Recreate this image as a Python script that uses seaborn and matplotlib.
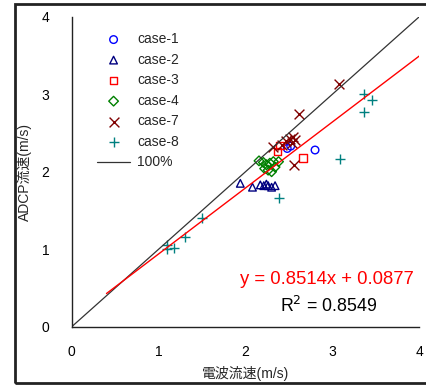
import matplotlib
matplotlib.use("Agg")
import matplotlib.pyplot as plt
import seaborn as sns
import numpy as np
import pandas as pd
from matplotlib.patches import Rectangle

sns.set_style("white")
plt.rcParams['font.family'] = ['Liberation Sans', 'Noto Sans CJK JP', 'DejaVu Sans']

# ---- data ----
case1_x = [2.48, 2.52, 2.80]
case1_y = [2.30, 2.33, 2.28]
case2_x = [1.94, 2.08, 2.17, 2.21, 2.26, 2.30, 2.34, 2.24]
case2_y = [1.85, 1.80, 1.83, 1.82, 1.82, 1.80, 1.82, 1.84]
case3_x = [2.37, 2.40, 2.66]
case3_y = [2.26, 2.34, 2.18]
case4_x = [2.155, 2.205, 2.24, 2.28, 2.32, 2.38, 2.26, 2.30, 2.22, 2.34]
case4_y = [2.14, 2.12, 2.09, 2.11, 2.13, 2.13, 2.02, 2.00, 2.04, 2.06]
case7_x = [3.07, 2.61, 2.56, 2.32, 2.47, 2.51, 2.55, 2.57, 2.53, 2.42]
case7_y = [3.13, 2.74, 2.09, 2.32, 2.39, 2.42, 2.45, 2.41, 2.37, 2.34]
case8_x = [3.36, 3.46, 3.36, 3.09, 2.38, 1.50, 1.30, 1.18, 1.10, 1.10]
case8_y = [3.00, 2.92, 2.77, 2.17, 1.66, 1.40, 1.16, 1.02, 1.05, 1.00]

slope = 0.8514
intercept = 0.0877
r2 = 0.8549
fit_x = [0.4, 4.0]
ref_x = [0.0, 4.0]

ticks = [0, 1, 2, 3, 4]

series = [
    ("case-1", case1_x, case1_y, "o", "#0000ff"),
    ("case-2", case2_x, case2_y, "^", "#000080"),
    ("case-3", case3_x, case3_y, "s", "#ff0000"),
    ("case-4", case4_x, case4_y, "D", "#008000"),
    ("case-7", case7_x, case7_y, "x", "#800000"),
    ("case-8", case8_x, case8_y, "+", "#008080"),
]

fig = plt.figure(figsize=(4.27, 3.86), dpi=100)
ax = fig.add_axes([0.168, 0.1536, 0.814, 0.8031])

for label, xs, ys, m, c in series:
    df = pd.DataFrame({"x": xs, "y": ys})
    if m in ("x", "+"):
        sns.scatterplot(data=df, x="x", y="y", marker=m, s=50, color=c,
                        linewidth=1.0, label=label, ax=ax)
    else:
        size = 30 if m != "D" else 24
        sns.scatterplot(data=df, x="x", y="y", marker=m, s=size, facecolor="none",
                        edgecolor=c, linewidth=1.0, label=label, ax=ax)

ref_df = pd.DataFrame({"x": ref_x, "y": ref_x})
sns.lineplot(data=ref_df, x="x", y="y", color="#333333", linewidth=0.9, label="100%", ax=ax)
fit_df = pd.DataFrame({"x": fit_x, "y": [slope * v + intercept for v in fit_x]})
sns.lineplot(data=fit_df, x="x", y="y", color="#ff0000", linewidth=1.0, ax=ax, legend=False)

ax.set_xlim(0, 4)
ax.set_ylim(0, 4)
ax.set_xticks(ticks)
ax.set_yticks(ticks)
ax.set_xticklabels([str(t) for t in ticks])
ax.set_yticklabels([str(t) for t in ticks])
ax.tick_params(direction="in", length=4, width=1, colors="#222222", labelsize=10,
               labelcolor="black")
ax.tick_params(axis="x", pad=13)
ax.tick_params(axis="y", pad=16)
for s in ("top", "right"):
    ax.spines[s].set_visible(False)
for s in ("left", "bottom"):
    ax.spines[s].set_color("#222222")
    ax.spines[s].set_linewidth(1.0)

ax.set_xlabel("電波流速(m/s)", fontsize=10, labelpad=5)
ax.set_ylabel("ADCP流速(m/s)", fontsize=10, labelpad=7)

ax.text(3.94, 0.615, f"y = {slope}x + {intercept}", color="#ff0000", fontsize=13.3,
        ha="right", va="center")
ax.text(2.95, 0.267, f"R$^2$ = {r2}", color="black", fontsize=12.8,
        ha="center", va="center")

handles, labels = ax.get_legend_handles_labels()
leg = ax.legend(handles, labels, loc="upper left", bbox_to_anchor=(0.073, 0.950),
                frameon=False, fontsize=10, handlelength=2.37, labelspacing=0.47,
                handletextpad=0.5, borderaxespad=0.0, borderpad=0.0)

fig.patches.append(Rectangle((15 / 427, 3 / 386), 1.2, (383 - 4) / 386,
                             transform=fig.transFigure, fill=False,
                             edgecolor="#222222", linewidth=2, zorder=10))

fig.savefig("out.png", dpi=100)
